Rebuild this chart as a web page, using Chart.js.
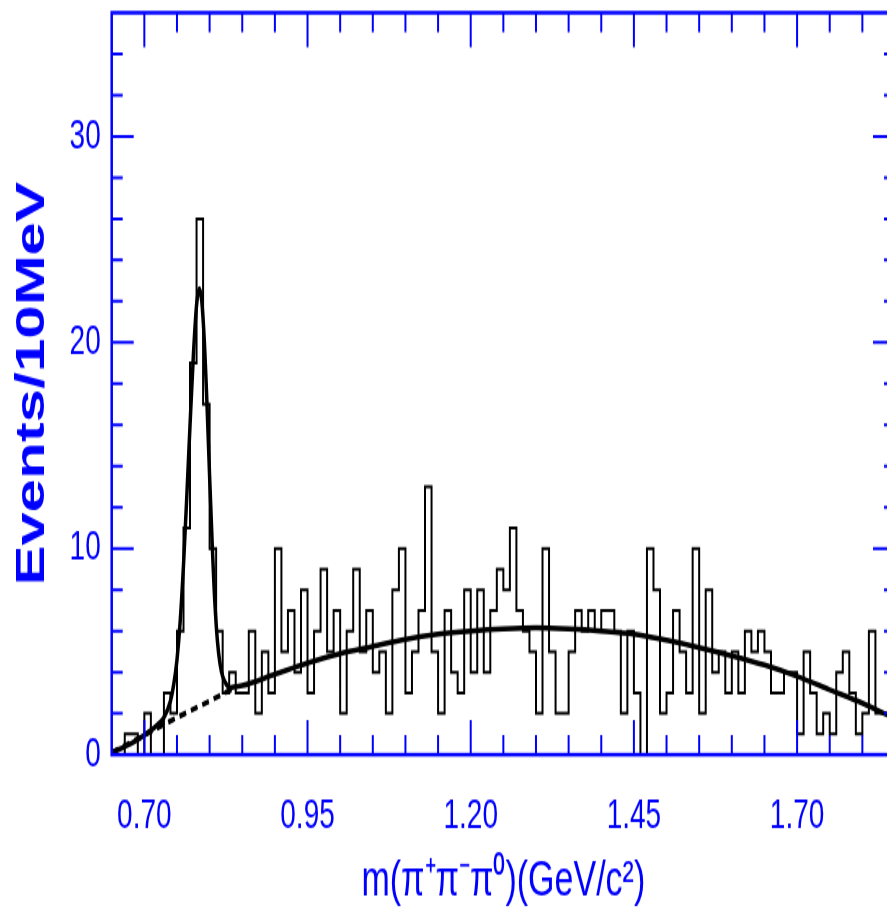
<!DOCTYPE html>
<html>
<head>
<meta charset="utf-8">
<script src="https://cdn.jsdelivr.net/npm/chart.js@4.4.0/dist/chart.umd.min.js"></script>
<style>
  html, body { margin: 0; padding: 0; background: #fff; }
  #page { width: 887px; height: 920px; overflow: hidden; position: relative; }
  /* the original figure is stretched vertically, so draw flat and stretch */
  #wrap { position: absolute; left: 0; top: 0; width: 900px; height: 614px;
          transform: scale(1, 1.5); transform-origin: 0 0; }
</style>
</head>
<body>
<div id="page"><div id="wrap"><canvas id="chart" width="900" height="614"></canvas></div></div>
<script>
// histogram: 10 MeV bins starting at 0.65 GeV
const binStart = 0.65;
const binWidth = 0.01;
const counts = [
  0, 0, 1, 1, 0, 2, 0, 0, 3, 2,
  6, 11, 19, 26, 17, 10, 6, 3, 4, 3,
  3, 6, 2, 5, 3, 10, 5, 7, 4, 8,
  3, 6, 9, 5, 7, 2, 6, 9, 5, 7,
  4, 5, 2, 8, 10, 3, 5, 7, 13, 5,
  2, 7, 4, 3, 8, 4, 8, 4, 7, 9,
  8, 11, 7, 6, 5, 2, 10, 5, 2, 2,
  5, 7, 6, 7, 6, 7, 7, 6, 2, 6,
  3, 0, 10, 8, 2, 3, 7, 5, 3, 10,
  2, 8, 4, 5, 3, 5, 3, 6, 5, 6,
  5, 3, 3, 4, 4, 1, 5, 3, 1, 2,
  1, 4, 5, 3, 1, 2, 6, 2, 2, 3
];

// fitted curve (signal + background)
const fitX = [0.650, 0.680, 0.700, 0.720, 0.730, 0.740, 0.745, 0.750, 0.755, 0.760,
              0.765, 0.770, 0.775, 0.780, 0.784, 0.788, 0.792, 0.796, 0.800, 0.804,
              0.808, 0.812, 0.816, 0.820, 0.826, 0.832, 0.840, 0.850, 0.900, 0.950,
              1.000, 1.050, 1.100, 1.150, 1.200, 1.250, 1.300, 1.350, 1.400, 1.450,
              1.500, 1.550, 1.600, 1.650, 1.700, 1.750, 1.800, 1.850];
const fitY = [0.10, 0.55, 0.95, 1.45, 1.80, 2.60, 3.40, 4.60, 6.50, 9.20,
              12.5, 16.0, 19.3, 21.8, 22.6, 22.0, 20.0, 17.0, 13.5, 10.2,
              7.40, 5.50, 4.40, 3.80, 3.40, 3.25, 3.30, 3.35, 3.90, 4.45,
              4.90, 5.25, 5.60, 5.85, 6.00, 6.10, 6.15, 6.10, 6.00, 5.85,
              5.55, 5.20, 4.80, 4.35, 3.80, 3.15, 2.50, 1.75];

// background part, dashed under the peak
const bgX = [0.650, 0.700, 0.750, 0.800, 0.835];
const bgY = [0.10, 0.95, 1.80, 2.60, 3.20];

const xLabelTicks = [0.70, 0.95, 1.20, 1.45, 1.70];
const xMinorTicks = [0.70, 0.75, 0.80, 0.85, 0.90, 0.95, 1.00, 1.05, 1.10, 1.15, 1.20,
                     1.25, 1.30, 1.35, 1.40, 1.45, 1.50, 1.55, 1.60, 1.65, 1.70, 1.75, 1.80];
const yLabelTicks = [0, 10, 20, 30];
const yMinorTicks = [2, 4, 6, 8, 10, 12, 14, 16, 18, 20, 22, 24, 26, 28, 30, 32, 34];

const blue = '#0000ff';
const fontFam = '"Liberation Sans", Arial, Helvetica, sans-serif';

const histPoints = counts.map((c, i) => ({ x: binStart + i * binWidth, y: c }));
histPoints.push({ x: binStart + counts.length * binWidth, y: counts[counts.length - 1] });

const isMajorX = v => xLabelTicks.some(t => Math.abs(t - v) < 1e-6);
const isMajorY = v => yLabelTicks.includes(v);

// frame with inward pointing ticks on all four sides
const frameTicks = {
    id: 'frameTicks',
    afterDatasetsDraw(chart) {
        const { ctx, chartArea: a, scales: { x, y } } = chart;
        ctx.save();
        ctx.strokeStyle = blue;
        ctx.lineWidth = 2;
        ctx.beginPath();
        xMinorTicks.forEach(v => {
            const px = x.getPixelForValue(v);
            const len = isMajorX(v) ? 23 : 13;
            ctx.moveTo(px, a.bottom); ctx.lineTo(px, a.bottom - len);
            ctx.moveTo(px, a.top); ctx.lineTo(px, a.top + len);
        });
        yMinorTicks.forEach(v => {
            const py = y.getPixelForValue(v);
            const len = isMajorY(v) ? 22 : 11;
            ctx.moveTo(a.left, py); ctx.lineTo(a.left + len, py);
            ctx.moveTo(a.right, py); ctx.lineTo(a.right - len, py);
        });
        ctx.stroke();
        ctx.lineWidth = 2.5;
        ctx.strokeRect(a.left, a.top, a.right - a.left, a.bottom - a.top);
        ctx.restore();
    }
};

new Chart(document.getElementById('chart'), {
    type: 'line',
    data: {
        datasets: [
            {
                data: histPoints,
                stepped: 'before',
                borderColor: '#000',
                borderWidth: 2,
                pointRadius: 0,
                fill: false
            },
            {
                data: fitX.map((v, i) => ({ x: v, y: fitY[i] })),
                borderColor: '#000',
                borderWidth: 3.5,
                pointRadius: 0,
                cubicInterpolationMode: 'monotone',
                fill: false
            },
            {
                data: bgX.map((v, i) => ({ x: v, y: bgY[i] })),
                borderColor: '#000',
                borderWidth: 3.5,
                borderDash: [7, 5],
                pointRadius: 0,
                fill: false
            }
        ]
    },
    options: {
        responsive: false,
        animation: false,
        layout: { padding: { top: 8.5, right: 5, bottom: 0, left: 0 } },
        plugins: { legend: { display: false }, tooltip: { enabled: false } },
        scales: {
            x: {
                type: 'linear',
                min: 0.65,
                max: 1.85,
                grid: { display: false, drawTicks: false },
                border: { display: false },
                afterBuildTicks: s => { s.ticks = xLabelTicks.map(v => ({ value: v })); },
                afterFit: s => { s.height = 110.9; s.paddingLeft = 0; s.paddingRight = 0; },
                ticks: {
                    color: blue,
                    font: { family: fontFam, size: 28 },
                    padding: 24,
                    maxRotation: 0,
                    autoSkip: false,
                    callback: v => v.toFixed(2)
                },
                title: {
                    display: true,
                    text: 'm(π⁺π⁻π⁰)(GeV/c²)',
                    color: blue,
                    font: { family: fontFam, size: 34 },
                    padding: { top: 0, bottom: 6 }
                }
            },
            y: {
                min: 0,
                max: 36,
                grid: { display: false, drawTicks: false },
                border: { display: false },
                afterBuildTicks: s => { s.ticks = yLabelTicks.map(v => ({ value: v })); },
                afterFit: s => { s.width = 111.7; s.paddingTop = 0; s.paddingBottom = 0; },
                ticks: {
                    color: blue,
                    font: { family: fontFam, size: 28 },
                    padding: 11
                },
                title: {
                    display: true,
                    text: 'Events/10MeV',
                    color: blue,
                    font: { family: fontFam, size: 40, weight: 'bold' },
                    padding: { top: 9, bottom: 0 }
                }
            }
        }
    },
    plugins: [frameTicks]
});
</script>
</body>
</html>
